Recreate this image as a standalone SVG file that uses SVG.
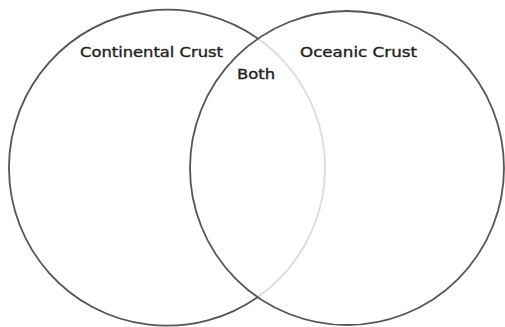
<svg xmlns="http://www.w3.org/2000/svg" width="505" height="327" viewBox="0 0 505 327">
<style>
.c{fill:none;stroke:#555;stroke-width:1.8}
.g{fill:none;stroke:#dcdcdc;stroke-width:1.8}
.t{font-family:"DejaVu Sans","Liberation Sans",sans-serif;font-size:13.5px;fill:#222;stroke:#222;stroke-width:0.35}
</style>
<rect width="505" height="327" fill="#fff"/>
<g id="continental">
<path class="c" d="M257.9,38.5 A158,158 0 1 0 257.9,296.9"/>
<path class="g" d="M257.9,38.5 A158,158 0 0 1 257.9,296.9"/>
<text class="t" x="80" y="57" textLength="143" lengthAdjust="spacingAndGlyphs">Continental Crust</text>
</g>
<g id="oceanic">
<circle class="c" cx="347" cy="168" r="157"/>
<text class="t" x="300" y="57" textLength="117" lengthAdjust="spacingAndGlyphs">Oceanic Crust</text>
</g>
<g id="both">
<text class="t" x="237" y="79" textLength="38" lengthAdjust="spacingAndGlyphs">Both</text>
</g>
<g id="connectors"></g>
</svg>
